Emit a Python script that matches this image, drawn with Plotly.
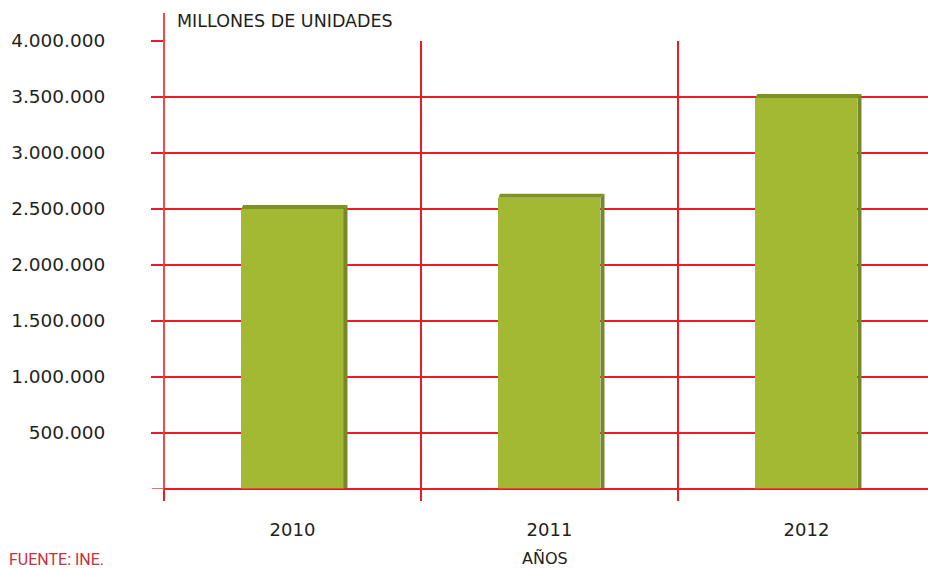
import plotly.graph_objects as go

years = ["2010", "2011", "2012"]
values = [2500000, 2600000, 3490000]
y_ticks = [500000, 1000000, 1500000, 2000000, 2500000, 3000000, 3500000, 4000000]
y_tick_labels = ["500.000", "1.000.000", "1.500.000", "2.000.000", "2.500.000",
                 "3.000.000", "3.500.000", "4.000.000"]

RED = "rgb(237,28,36)"
FRONT = "#a3b933"
TOP = "#7f9229"
SIDE = "#76892a"
TXT = "#231f20"
FONT = "DejaVu Sans"

xs = list(range(len(years)))
half_w = 0.1985
dx = 0.0156      # depth offset in x (data units)
dy = 36000       # depth offset in y (data units)

fig = go.Figure()

# 3D faces: top and side
for x, v in zip(xs, values):
    x0, x1 = x - half_w, x + half_w
    fig.add_trace(go.Scatter(
        x=[x1, x1 + dx, x1 + dx, x1, x1],
        y=[0, dy * 0.3, v + dy, v, 0],
        fill="toself", fillcolor=SIDE, line=dict(width=0), mode="lines",
        hoverinfo="skip", showlegend=False))
    fig.add_trace(go.Scatter(
        x=[x0, x0 + dx * 0.4, x1 + dx, x1, x0],
        y=[v, v + dy, v + dy, v, v],
        fill="toself", fillcolor=TOP, line=dict(width=0), mode="lines",
        hoverinfo="skip", showlegend=False))

fig.add_trace(go.Bar(
    x=xs, y=values, width=2 * half_w, marker=dict(color=FRONT, line=dict(width=0)),
    showlegend=False, hoverinfo="skip"))

PH = 448.0
PW = 764.0

fig.update_layout(
    template="none",
    width=928, height=568,
    margin=dict(l=164, r=0, t=41, b=79, pad=0),
    paper_bgcolor="white", plot_bgcolor="white",
    font=dict(family=FONT, color=TXT),
    bargap=0,
    xaxis=dict(
        range=[-0.5, 2.473], tickmode="array", tickvals=xs, ticktext=years,
        showgrid=False, zeroline=False, showline=False, ticks="",
        tickfont=dict(size=18, color=TXT, family=FONT),
        ticklabelstandoff=28,
        minor=dict(tickmode="linear", tick0=-0.5, dtick=1, showgrid=True,
                   gridcolor=RED, gridwidth=1.6, ticks="outside", ticklen=11,
                   tickcolor=RED, tickwidth=1.6),
    ),
    yaxis=dict(
        range=[0, 4000000], tickmode="array", tickvals=y_ticks, ticktext=y_tick_labels,
        showgrid=True, gridcolor=RED, gridwidth=1.6,
        zeroline=True, zerolinecolor=RED, zerolinewidth=1.6,
        showline=False, ticks="outside", ticklen=12, tickcolor=RED, tickwidth=1.6,
        tickfont=dict(size=18.5, color=TXT, family=FONT),
        ticklabelstandoff=42,
    ),
    shapes=[
        dict(type="line", xref="paper", yref="paper", x0=0, x1=0,
             y0=-11 / PH, y1=(489 - 13) / PH, line=dict(color=RED, width=1.6)),
        dict(type="line", xref="paper", yref="y", x0=-12 / PW, x1=1, y0=0, y1=0,
             line=dict(color="rgba(237,28,36,0.65)", width=2), layer="above"),
    ],
    annotations=[
        dict(text="MILLONES DE UNIDADES", xref="paper", yref="paper",
             x=11 / PW, y=(489 - 21) / PH, xanchor="left", yanchor="middle",
             showarrow=False, font=dict(size=17.5, color=TXT, family=FONT)),
        dict(text="AÑOS", xref="paper", yref="paper",
             x=(545 - 164) / PW, y=(489 - 558) / PH, xanchor="center", yanchor="middle",
             showarrow=False, font=dict(size=16, color=TXT, family=FONT)),
        dict(text="FUENTE: INE.", xref="paper", yref="paper",
             x=-157 / PW, y=(489 - 559) / PH, xanchor="left", yanchor="middle",
             showarrow=False, font=dict(size=16, color="#c8303c", family="Roboto")),
    ],
)

fig.write_html("out.html", config={"displayModeBar": False},
               post_script="document.body.style.margin='0px';document.body.style.overflow='hidden';")
